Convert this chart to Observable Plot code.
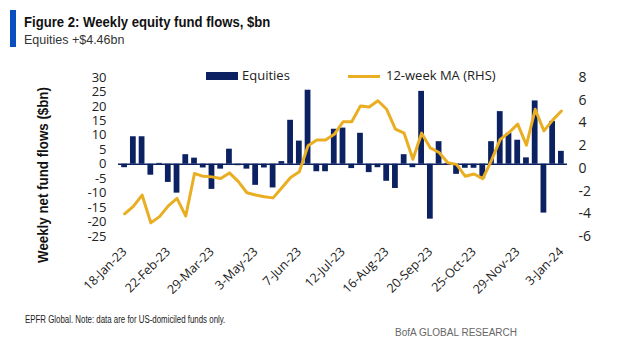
<!DOCTYPE html>
<html><head><meta charset="utf-8">
<script src="https://cdn.jsdelivr.net/npm/d3@7"></script>
<script src="https://cdn.jsdelivr.net/npm/@observablehq/plot@0.6"></script>
<style>
html,body{margin:0;padding:0;background:#fff;}
#wrap{position:relative;width:622px;height:350px;overflow:hidden;font-family:"Open Sans",sans-serif;color:#222;}
.bluebar{position:absolute;left:10px;top:10px;width:6px;height:37px;background:#0a4fbf;}
.fit{position:absolute;white-space:nowrap;font-family:"Liberation Sans",sans-serif;line-height:1;}
.title{left:24px;top:14px;font-weight:bold;font-size:15px;color:#111;transform-origin:0 50%;}
.sub{left:24px;top:33px;font-size:13.5px;color:#333;transform-origin:0 50%;}
#chart{position:absolute;left:0;top:55px;}
.ylab{left:43px;top:175px;font-weight:bold;font-size:14px;color:#111;transform-origin:50% 50%;}
.legend{position:absolute;top:66px;left:206px;font-size:13px;color:#222;white-space:nowrap;}
.legend span{position:absolute;top:0;}
.note{left:25px;top:315px;font-size:10px;color:#222;transform-origin:0 50%;}
.brand{right:105px;top:328px;font-size:10px;color:#666;transform-origin:100% 50%;}
</style>
</head><body>
<div id="wrap">
  <div class="bluebar"></div>
  <div class="fit title" data-w="246">Figure 2: Weekly equity fund flows, $bn</div>
  <div class="fit sub" data-w="100">Equities +$4.46bn</div>
  <div id="chart"></div>
  <div class="fit ylab" data-w="176" data-rot="1">Weekly net fund flows ($bn)</div>
  <div class="legend">
    <span style="left:0;top:6px;width:32px;height:8px;background:#0b2161;"></span>
    <span style="left:36px;">Equities</span>
    <span style="left:142px;top:9px;width:32px;height:3px;background:#e9ae22;"></span>
    <span style="left:180px;">12-week MA (RHS)</span>
  </div>
  <div class="fit note" data-w="200">EPFR Global. Note: data are for US-domiciled funds only.</div>
  <div class="fit brand" data-w="122">BofA GLOBAL RESEARCH</div>
</div>
<script>
// Weekly equity fund flows ($bn), weeks from 18-Jan-23 to 3-Jan-24
const equities = [-1.2, 9.5, 9.5, -3.8, 0.3, -6.3, -10, 3.3, 2.1, -1.3, -8.7, -1.7, 5.2, -0.5, -1.7, -7.3, -1.3, -8.2, 0.9, 15.2, 8.0, 25.6, -2.6, -2.6, 12.1, 12.5, -1.5, 10.7, -2.9, -1.2, -5.9, -8.4, 3.3, -1.2, 25.2, -19, 7.8, 0.3, -3.5, -1.4, -1.4, -5, 7.8, 18.2, 10.7, 8.3, 2.2, 21.9, -16.9, 14.8, 4.46];
// 12-week moving average (RHS, $bn)
const ma12 = [-4.0, -3.35, -2.35, -4.8, -4.25, -3.3, -2.65, -4.2, -0.45, -0.7, -0.75, -0.9, -0.4, -1.15, -2.15, -2.35, -2.5, -2.6, -1.7, -0.8, -0.3, 2.0, 2.5, 2.5, 3.0, 4.1, 4.1, 5.5, 5.4, 5.95, 5.2, 3.45, 3.1, 0.8, 3.1, 1.8, 1.4, 0.5, 0.35, -0.7, -0.5, -0.9, 0.7, 2.55, 3.15, 3.9, 2.05, 5.2, 3.3, 4.25, 5.05];
const tickLabels = ["18-Jan-23","22-Feb-23","29-Mar-23","3-May-23","7-Jun-23","12-Jul-23","16-Aug-23","20-Sep-23","25-Oct-23","29-Nov-23","3-Jan-24"];
const tickIndex = [0,5,10,15,20,25,30,35,40,45,50];
const leftTicks = [-25,-20,-15,-10,-5,0,5,10,15,20,25,30];
const rightTicks = [-6,-4,-2,0,2,4,6,8];

const L0 = -25, L1 = 30, R0 = -6, R1 = 8;
const k = (L1 - L0) / (R1 - R0);
const toLeft = v => L0 + (v - R0) * k;
const fromLeft = v => R0 + (v - L0) / k;

const navy = "#0b2161", gold = "#e9ae22";

const chart = Plot.plot({
  width: 622,
  height: 255,
  marginLeft: 118,
  marginRight: 55,
  marginTop: 22,
  marginBottom: 74,
  style: {fontFamily: "'Open Sans', sans-serif", fontSize: "13px", color: "#222", background: "white"},
  x: {domain: [-0.7, 50.7], axis: null},
  y: {domain: [L0, L1], axis: null},
  marks: [
    Plot.rect(equities, {x1: (d, i) => i - 0.33, x2: (d, i) => i + 0.33, y1: 0, y2: d => d, fill: navy}),
    Plot.ruleY([0], {stroke: navy, strokeWidth: 1.5}),
    Plot.lineY(ma12, {x: (d, i) => i, y: d => toLeft(d), stroke: gold, strokeWidth: 3, strokeLinejoin: "round", strokeLinecap: "round"}),
    Plot.axisY(leftTicks, {anchor: "left", tickSize: 0, tickPadding: 12, tickFormat: d => String(d), fontSize: 13, label: null}),
    Plot.axisY(rightTicks.map(toLeft), {anchor: "right", tickSize: 0, tickPadding: 11, tickFormat: d => String(Math.round(fromLeft(d))), fontSize: 14, label: null}),
    Plot.axisX(tickIndex, {anchor: "bottom", tickSize: 0, tickPadding: 13, tickRotate: -45, tickFormat: d => tickLabels[tickIndex.indexOf(d)], fontSize: 12.5, label: null})
  ]
});
document.getElementById("chart").appendChild(chart);

// fit the condensed-style header/footer texts to the reference widths
document.querySelectorAll(".fit").forEach(el => {
  const s = (+el.dataset.w) / el.offsetWidth;
  el.style.transform = el.dataset.rot
    ? `translate(-50%,-50%) rotate(-90deg) scaleX(${s})`
    : `scaleX(${s})`;
});
</script>
</body></html>
